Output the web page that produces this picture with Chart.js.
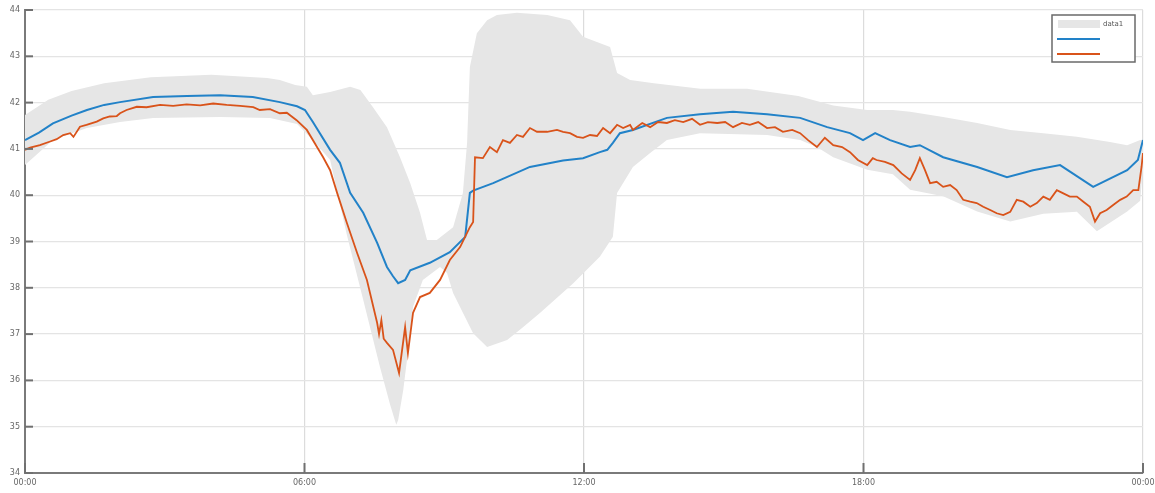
<!DOCTYPE html>
<html>
<head>
<meta charset="utf-8">
<script src="https://cdn.jsdelivr.net/npm/chart.js@4"></script>
<style>
html,body{margin:0;padding:0;background:#fff;}
#wrap{width:1155px;height:493px;position:relative;}
</style>
</head>
<body>
<div id="wrap"><canvas id="c" width="1155" height="493"></canvas></div>
<script>
// ---- data (hours since midnight, values) ----
const X_TICK_LABELS = ['00:00','06:00','12:00','18:00','00:00'];
const LEGEND_LABEL = 'data1';

const blueHours = [0,0.3,0.6,1.0,1.33,1.7,2.04,2.75,3.48,4.19,4.89,5.47,5.84,6.01,6.18,6.55,6.76,6.98,7.26,7.56,7.77,7.9,8.01,8.16,8.27,8.69,9.12,9.45,9.55,9.62,10.05,10.84,11.55,11.98,12.34,12.5,12.62,12.77,13.05,13.78,14.49,15.2,15.93,16.64,17.22,17.71,17.99,18.25,18.57,19.0,19.21,19.71,20.44,21.08,21.64,22.22,22.93,23.66,23.89,24];
const blueValues = [41.19,41.35,41.55,41.72,41.84,41.95,42.01,42.12,42.14,42.16,42.12,42.01,41.92,41.84,41.58,40.98,40.70,40.05,39.62,38.97,38.45,38.25,38.10,38.17,38.38,38.54,38.77,39.10,40.05,40.10,40.26,40.61,40.75,40.80,40.93,40.98,41.13,41.34,41.41,41.67,41.75,41.80,41.75,41.67,41.47,41.34,41.19,41.34,41.19,41.04,41.08,40.82,40.61,40.39,40.54,40.65,40.18,40.54,40.76,41.19];

const orangeHours = [0,0.11,0.32,0.54,0.68,0.82,0.97,1.04,1.18,1.32,1.54,1.68,1.82,1.97,2.04,2.18,2.40,2.61,2.90,3.18,3.47,3.76,4.04,4.33,4.62,4.90,5.04,5.26,5.47,5.62,5.83,6.05,6.40,6.55,6.70,6.91,7.13,7.34,7.56,7.6,7.65,7.7,7.77,7.90,8.03,8.16,8.22,8.33,8.48,8.69,8.91,9.12,9.34,9.55,9.62,9.66,9.83,9.98,10.13,10.26,10.41,10.56,10.69,10.84,10.99,11.21,11.42,11.55,11.70,11.85,11.98,12.13,12.28,12.41,12.56,12.71,12.84,12.99,13.05,13.25,13.42,13.59,13.78,13.95,14.13,14.32,14.49,14.66,14.86,15.03,15.2,15.39,15.56,15.74,15.93,16.10,16.27,16.47,16.64,16.81,17.0,17.17,17.35,17.54,17.71,17.88,18.08,18.2,18.28,18.46,18.64,18.82,19.0,19.11,19.21,19.32,19.43,19.57,19.71,19.86,20.0,20.14,20.29,20.43,20.57,20.72,20.86,21.0,21.15,21.29,21.43,21.58,21.72,21.86,22.0,22.15,22.29,22.43,22.58,22.72,22.86,22.97,23.08,23.22,23.36,23.51,23.65,23.79,23.90,23.97,24];
const orangeValues = [40.98,41.03,41.08,41.16,41.21,41.30,41.34,41.26,41.48,41.52,41.59,41.66,41.70,41.71,41.77,41.84,41.91,41.90,41.95,41.93,41.96,41.94,41.98,41.95,41.93,41.90,41.84,41.86,41.77,41.78,41.62,41.41,40.82,40.54,40.05,39.40,38.75,38.17,37.24,37.0,37.3,36.9,36.81,36.66,36.16,37.15,36.59,37.46,37.80,37.89,38.17,38.60,38.88,39.31,39.42,40.82,40.80,41.04,40.93,41.19,41.13,41.30,41.26,41.45,41.37,41.37,41.41,41.37,41.34,41.26,41.24,41.30,41.28,41.45,41.34,41.52,41.45,41.52,41.41,41.56,41.47,41.58,41.56,41.62,41.58,41.65,41.52,41.58,41.56,41.58,41.47,41.56,41.52,41.58,41.45,41.47,41.37,41.41,41.34,41.19,41.04,41.24,41.08,41.04,40.93,40.76,40.65,40.80,40.76,40.72,40.65,40.47,40.33,40.54,40.80,40.54,40.26,40.29,40.18,40.22,40.11,39.90,39.86,39.83,39.75,39.68,39.61,39.57,39.64,39.90,39.86,39.75,39.83,39.97,39.90,40.11,40.04,39.97,39.97,39.86,39.75,39.43,39.61,39.68,39.79,39.90,39.97,40.11,40.11,40.62,40.91];

const bandUpperHours = [0,0.5,1.0,1.7,2.7,4.0,5.2,5.47,5.8,6.05,6.18,6.55,6.98,7.2,7.47,7.77,8.05,8.27,8.48,8.63,8.84,9.19,9.40,9.49,9.55,9.7,9.92,10.13,10.56,11.21,11.7,11.98,12.56,12.71,12.99,13.5,14.5,15.5,16.6,17.35,18.08,18.63,19.0,19.71,20.44,21.15,21.86,22.58,23.29,23.66,23.94,24];
const bandUpperValues = [41.73,42.06,42.25,42.42,42.55,42.60,42.53,42.49,42.38,42.34,42.16,42.23,42.34,42.27,41.90,41.47,40.82,40.26,39.62,39.03,39.03,39.31,40.05,41.13,42.77,43.50,43.78,43.89,43.94,43.89,43.78,43.42,43.20,42.64,42.49,42.42,42.30,42.30,42.14,41.94,41.84,41.84,41.80,41.69,41.56,41.41,41.34,41.26,41.15,41.08,41.19,41.20];

const bandLowerHours = [0,0.6,1.33,2.04,2.75,4.19,5.26,5.84,6.18,6.55,6.91,7.26,7.62,7.84,7.97,8.01,8.12,8.2,8.33,8.54,8.91,9.06,9.19,9.40,9.62,9.92,10.35,10.69,11.06,11.77,12.34,12.62,12.71,13.05,13.42,13.78,14.49,15.93,16.64,17.0,17.35,18.08,18.63,19.0,19.71,20.44,21.15,21.86,22.58,23.01,23.66,23.94,24];
const bandLowerValues = [40.65,41.19,41.45,41.58,41.67,41.69,41.67,41.54,41.19,40.76,39.14,37.74,36.29,35.47,35.04,35.14,35.79,36.44,37.59,38.17,38.45,38.32,37.89,37.46,37.02,36.72,36.87,37.15,37.46,38.10,38.67,39.10,40.05,40.61,40.91,41.19,41.34,41.30,41.19,41.04,40.82,40.55,40.45,40.12,39.98,39.65,39.43,39.60,39.64,39.22,39.65,39.88,40.65];

const zip = (xs, ys) => xs.map((x, i) => ({x: x, y: ys[i]}));

const BLUE = '#2282c8';
const ORANGE = '#d9531a';
const BAND = '#e6e6e6';

const innerTicks = {
  id: 'innerTicks',
  afterDatasetsDraw(chart) {
    const ctx = chart.ctx;
    const xs = chart.scales.x, ys = chart.scales.y;
    const a = chart.chartArea;
    ctx.save();
    ctx.strokeStyle = '#707070';
    ctx.lineWidth = 2;
    ys.ticks.forEach(t => {
      const py = ys.getPixelForValue(t.value);
      ctx.beginPath(); ctx.moveTo(a.left, py); ctx.lineTo(a.left + 8, py); ctx.stroke();
    });
    xs.ticks.forEach(t => {
      const px = xs.getPixelForValue(t.value);
      ctx.beginPath(); ctx.moveTo(px, a.bottom); ctx.lineTo(px, a.bottom - 10); ctx.stroke();
    });
    ctx.restore();
  }
};

const customLegend = {
  id: 'customLegend',
  afterDraw(chart) {
    const ctx = chart.ctx;
    ctx.save();
    ctx.fillStyle = '#ffffff';
    ctx.fillRect(1052, 15, 83, 47);
    ctx.strokeStyle = '#6a6a6a';
    ctx.lineWidth = 1.5;
    ctx.strokeRect(1052, 15, 83, 47);
    ctx.fillStyle = BAND;
    ctx.fillRect(1058, 20, 42, 8);
    ctx.fillStyle = '#555';
    ctx.font = '7px "DejaVu Sans", sans-serif';
    ctx.textBaseline = 'middle';
    ctx.fillText(LEGEND_LABEL, 1103, 24);
    ctx.lineWidth = 2;
    ctx.strokeStyle = BLUE;
    ctx.beginPath(); ctx.moveTo(1057, 39); ctx.lineTo(1100, 39); ctx.stroke();
    ctx.strokeStyle = ORANGE;
    ctx.beginPath(); ctx.moveTo(1057, 54); ctx.lineTo(1100, 54); ctx.stroke();
    ctx.restore();
  }
};

new Chart(document.getElementById('c'), {
  type: 'line',
  data: {
    datasets: [
      {label: LEGEND_LABEL, data: zip(bandUpperHours, bandUpperValues), borderWidth: 0, borderColor: 'rgba(0,0,0,0)', backgroundColor: BAND, fill: '+1', pointRadius: 0, order: 3},
      {label: 'lower', data: zip(bandLowerHours, bandLowerValues), borderWidth: 0, borderColor: 'rgba(0,0,0,0)', backgroundColor: BAND, fill: false, pointRadius: 0, order: 4},
      {label: 'blue', data: zip(blueHours, blueValues), borderColor: BLUE, borderWidth: 2, fill: false, pointRadius: 0, order: 1},
      {label: 'orange', data: zip(orangeHours, orangeValues), borderColor: ORANGE, borderWidth: 1.8, fill: false, pointRadius: 0, order: 0}
    ]
  },
  options: {
    responsive: false,
    animation: false,
    events: [],
    layout: {padding: {top: 10, right: 12, left: 0, bottom: 0}},
    plugins: {legend: {display: false}, tooltip: {enabled: false}},
    scales: {
      x: {
        type: 'linear', min: 0, max: 24,
        afterFit: s => { s.height = 20; s.paddingRight = 0; s.paddingLeft = 0; },
        ticks: {stepSize: 6, padding: 5, color: '#666', font: {size: 8, family: 'DejaVu Sans'}, maxRotation: 0,
          callback: (v, i) => X_TICK_LABELS[i]},
        grid: {color: '#dcdcdc', lineWidth: 1.2, drawTicks: false},
        border: {color: '#7a7a7a', width: 2}
      },
      y: {
        min: 34, max: 44,
        afterFit: s => { s.width = 25; },
        ticks: {stepSize: 1, padding: 5, color: '#666', font: {size: 8, family: 'DejaVu Sans'}},
        grid: {color: '#e4e4e4', lineWidth: 1.2, drawTicks: false},
        border: {color: '#7a7a7a', width: 2}
      }
    }
  },
  plugins: [innerTicks, customLegend]
});
</script>
</body>
</html>
